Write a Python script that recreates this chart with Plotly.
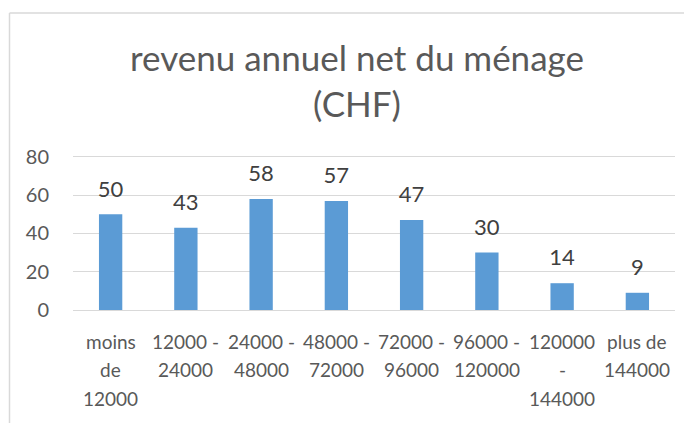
import plotly.graph_objects as go

categories = ["moins de 12000", "12000 - 24000", "24000 - 48000", "48000 - 72000",
              "72000 - 96000", "96000 - 120000", "120000 - 144000", "plus de 144000"]
tick_lines = [["moins", "de", "12000"], ["12000 -", "24000"], ["24000 -", "48000"],
              ["48000 -", "72000"], ["72000 -", "96000"], ["96000 -", "120000"],
              ["120000", "-", "144000"], ["plus de", "144000"]]
values = [50, 43, 58, 57, 47, 30, 14, 9]
y_ticks = [0, 20, 40, 60, 80]

FONT = "Lato"
OFF = 8  # default page body margin
W, H = 692 - OFF, 423 - OFF
L, R, T, B = 73 - OFF, 17, 155 - OFF, 113
pw, ph = W - L - R, H - T - B

def px_x(px):
    return (px - OFF - L) / pw

def px_y(py):
    return (H - B - (py - OFF)) / ph

fig = go.Figure()
fig.add_trace(go.Bar(
    x=categories, y=values, marker=dict(color="#5B9BD5", line=dict(width=0)),
    hoverinfo="skip",
))
fig.add_trace(go.Scatter(
    x=categories, y=values, mode="markers+text", text=[str(v) for v in values],
    textposition="top center",
    marker=dict(size=18, opacity=0, color="white"),
    textfont=dict(family=FONT, size=22, color="#404040"),
    hoverinfo="skip", cliponaxis=False,
))

annotations = []
for c, lines in zip(categories, tick_lines):
    for i, ln in enumerate(lines):
        annotations.append(dict(x=c, y=0, xref="x", yref="paper", text=ln, showarrow=False,
                                yanchor="middle", yshift=-31 - 28.5 * i,
                                font=dict(family=FONT, size=19, color="#595959")))

fig.update_layout(
    width=W, height=H,
    margin=dict(l=L, r=R, t=T, b=B),
    paper_bgcolor="white", plot_bgcolor="white",
    bargap=0.69,
    showlegend=False,
    title=dict(text="revenu annuel net du ménage<br>(CHF)", x=(357 - OFF) / W, xref="container",
               xanchor="center", y=1 - (71 - OFF) / H, yref="container", yanchor="middle",
               font=dict(family=FONT, size=35, color="#595959")),
    annotations=annotations,
    shapes=[
        dict(type="line", xref="paper", yref="paper", x0=px_x(9.5), x1=px_x(9.5),
             y0=px_y(13), y1=px_y(423), line=dict(color="#d9d9d9", width=1.5)),
        dict(type="line", xref="paper", yref="paper", x0=px_x(9.5), x1=px_x(692),
             y0=px_y(13), y1=px_y(13), line=dict(color="#d9d9d9", width=1.5)),
    ],
)
fig.update_xaxes(range=[-0.5, 7.5], showticklabels=False, showgrid=False, showline=False,
                 zeroline=False, fixedrange=True)
fig.update_yaxes(range=[0, 81], tickvals=y_ticks, showgrid=True, gridcolor="#d9d9d9",
                 gridwidth=1, zeroline=True, zerolinecolor="#d9d9d9", zerolinewidth=1,
                 showline=False, ticks="outside", ticklen=19, tickcolor="rgba(0,0,0,0)",
                 tickfont=dict(family=FONT, size=20, color="#595959"), fixedrange=True)

fig.write_html("out.html", config={"displayModeBar": False})
